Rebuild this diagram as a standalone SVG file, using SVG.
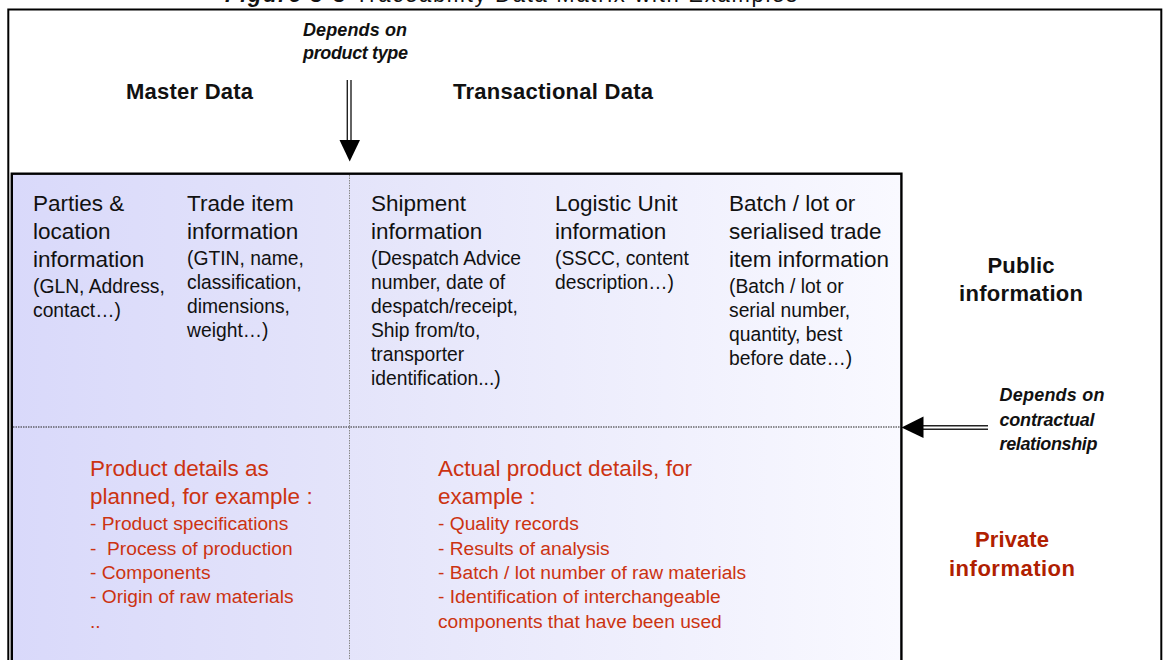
<svg xmlns="http://www.w3.org/2000/svg" width="1164" height="660" viewBox="0 0 1164 660">
<defs>
<linearGradient id="bg" x1="0" y1="0" x2="1" y2="0">
<stop offset="0" stop-color="#d9d9fa"/>
<stop offset="0.35" stop-color="#e3e3fa"/>
<stop offset="1" stop-color="#f9f9ff"/>
</linearGradient>
<style>
text{font-family:"Liberation Sans",Arial,sans-serif;fill:#111}
.big{font-size:22.5px}
.sm{font-size:19.3px}
.hd{font-size:22px;font-weight:bold}
.note{font-size:18px;font-weight:bold;font-style:italic}
.red{fill:#cc3311}
.rbig{font-size:22.5px}
.rsm{font-size:19.2px}
.side{font-size:22px;font-weight:bold;text-anchor:middle}
.shaft{stroke:#222;stroke-width:1.4;fill:none}
.head{fill:#000}
</style>
</defs>
<rect x="0" y="0" width="1164" height="660" fill="#fff"/>
<text x="225" y="1.8" font-size="22" textLength="572"><tspan font-weight="bold" font-style="italic">Figure 3-3</tspan> Traceability Data Matrix with Examples</text>
<g id="frame">
<rect x="8.3" y="9.5" width="1153" height="700" fill="none" stroke="#000" stroke-width="2"/>
</g>
<g id="matrix">
<rect x="11.8" y="173.7" width="889.6" height="520" fill="url(#bg)" stroke="#000" stroke-width="2.4"/>
<line x1="349.5" y1="175" x2="349.5" y2="660" stroke="#888" stroke-width="1" stroke-dasharray="1.5 1"/>
<line x1="13" y1="427" x2="900" y2="427" stroke="#222" stroke-width="1" stroke-dasharray="1.5 1"/>
</g>
<g id="header-master"><text class="hd" x="126" y="99" textLength="127">Master Data</text></g>
<g id="header-transactional"><text class="hd" x="453" y="99" textLength="200">Transactional Data</text></g>
<g id="note-product-type">
<text class="note" x="303" y="36" textLength="104">Depends on</text>
<text class="note" x="303" y="59" textLength="105">product type</text>
</g>
<g id="note-contractual">
<text class="note" x="999.5" y="401" textLength="105">Depends on</text>
<text class="note" x="999.5" y="425.5" textLength="95">contractual</text>
<text class="note" x="999.5" y="449.5" textLength="98">relationship</text>
</g>
<g id="cell-parties">
<text class="big" x="33" y="210.7">Parties &amp;</text>
<text class="big" x="33" y="239">location</text>
<text class="big" x="33" y="267.3">information</text>
<text class="sm" x="33" y="293.3">(GLN, Address,</text>
<text class="sm" x="33" y="317.3">contact…)</text>
</g>
<g id="cell-trade-item">
<text class="big" x="187" y="210.7">Trade item</text>
<text class="big" x="187" y="239">information</text>
<text class="sm" x="187" y="265">(GTIN, name,</text>
<text class="sm" x="187" y="289.3">classification,</text>
<text class="sm" x="187" y="313.3">dimensions,</text>
<text class="sm" x="187" y="337.3">weight…)</text>
</g>
<g id="cell-shipment">
<text class="big" x="371" y="210.7">Shipment</text>
<text class="big" x="371" y="239">information</text>
<text class="sm" x="371" y="265">(Despatch Advice</text>
<text class="sm" x="371" y="289.3">number, date of</text>
<text class="sm" x="371" y="313.3">despatch/receipt,</text>
<text class="sm" x="371" y="337.3">Ship from/to,</text>
<text class="sm" x="371" y="361.3">transporter</text>
<text class="sm" x="371" y="385.3">identification...)</text>
</g>
<g id="cell-logistic-unit">
<text class="big" x="555" y="210.7">Logistic Unit</text>
<text class="big" x="555" y="239">information</text>
<text class="sm" x="555" y="265">(SSCC, content</text>
<text class="sm" x="555" y="289.3">description…)</text>
</g>
<g id="cell-batch">
<text class="big" x="729" y="210.7">Batch / lot or</text>
<text class="big" x="729" y="239">serialised trade</text>
<text class="big" x="729" y="267.3">item information</text>
<text class="sm" x="729" y="293.3">(Batch / lot or</text>
<text class="sm" x="729" y="317.3">serial number,</text>
<text class="sm" x="729" y="341.3">quantity, best</text>
<text class="sm" x="729" y="365.3">before date…)</text>
</g>
<g id="label-public">
<text class="side" x="1021" y="272.5" textLength="67">Public</text>
<text class="side" x="1021" y="300.5" textLength="124">information</text>
</g>
<g id="cell-planned">
<text class="red rbig" x="90" y="476">Product details as</text>
<text class="red rbig" x="90" y="504.3">planned, for example :</text>
<text class="red rsm" x="90" y="530">- Product specifications</text>
<text class="red rsm" x="90" y="554.5" xml:space="preserve">-  Process of production</text>
<text class="red rsm" x="90" y="578.8">- Components</text>
<text class="red rsm" x="90" y="602.5">- Origin of raw materials</text>
<text class="red rsm" x="90" y="627.5">..</text>
</g>
<g id="cell-actual">
<text class="red rbig" x="438" y="476">Actual product details, for</text>
<text class="red rbig" x="438" y="504.3">example :</text>
<text class="red rsm" x="438" y="530">- Quality records</text>
<text class="red rsm" x="438" y="554.5">- Results of analysis</text>
<text class="red rsm" x="438" y="578.8">- Batch / lot number of raw materials</text>
<text class="red rsm" x="438" y="602.5">- Identification of interchangeable</text>
<text class="red rsm" x="438" y="627.5">components that have been used</text>
</g>
<g id="label-private">
<text class="side" x="1012" y="547" style="fill:#b02000" textLength="74">Private</text>
<text class="side" x="1012" y="576" style="fill:#b02000" textLength="126">information</text>
</g>
<g id="connectors">
<g id="arrow-product-type">
<line class="shaft" x1="347.3" y1="80" x2="347.3" y2="141"/>
<line class="shaft" x1="351" y1="80" x2="351" y2="141"/>
<polygon class="head" points="339.5,140 360,140 349.7,161.5"/>
</g>
<g id="arrow-contractual">
<line class="shaft" x1="988" y1="425.8" x2="922" y2="425.8"/>
<line class="shaft" x1="988" y1="429.2" x2="922" y2="429.2"/>
<polygon class="head" points="923.5,416.5 923.5,438 901.5,427.4"/>
</g>
</g>
</svg>
